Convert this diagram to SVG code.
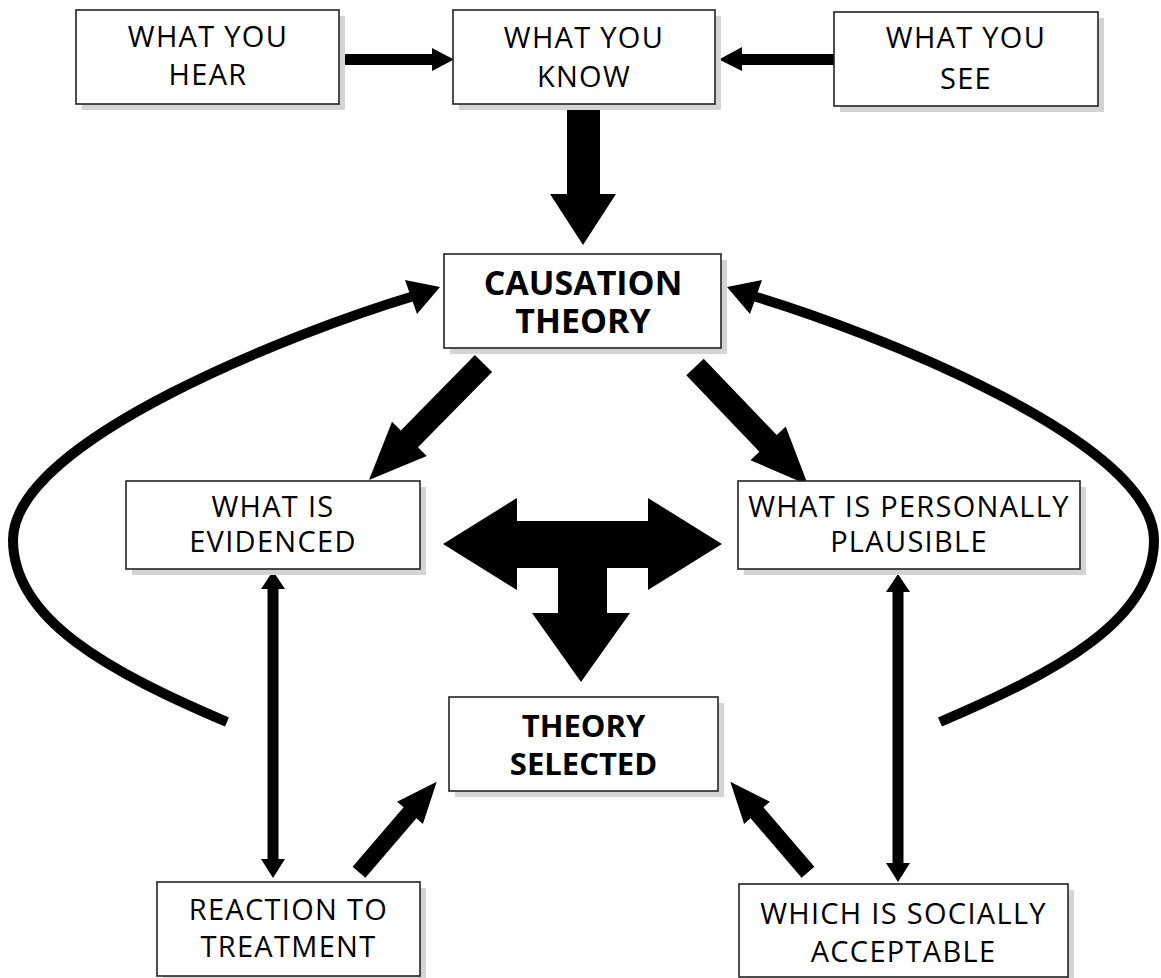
<svg xmlns="http://www.w3.org/2000/svg" width="1161" height="978" viewBox="0 0 1161 978">
<style>
.box{fill:#fff;stroke:#222;stroke-width:1.6}
.shadow{fill:#d4d4d4}
.t{font-family:"Open Sans","DejaVu Sans",sans-serif;font-size:29px;letter-spacing:1.3px;text-anchor:middle;fill:#000}
.b{font-family:"Open Sans","DejaVu Sans",sans-serif;font-weight:bold;font-size:34px;text-anchor:middle;fill:#000}
.arr{fill:#000}
.curve{fill:none;stroke:#000;stroke-width:10}
.line{fill:none;stroke:#000;stroke-width:11}
</style>
<rect width="1161" height="978" fill="#fff"/>
<g id="connectors">
  <polygon class="arr" points="339,54 432,54 432,48 454,59.5 432,71 432,65 339,65"/>
  <polygon class="arr" points="834,54 742,54 742,47 719,59.5 742,71 742,65 834,65"/>
  <polygon class="arr" points="567,104 600,104 600,194 616,194 583,245 550,194 567,194"/>
  <polygon class="arr" points="474.9,355.1 400.8,430.5 392,421.8 369,480 426.8,456 418,447.3 492.1,371.9"/>
  <polygon class="arr" points="686.3,375.3 759.4,451.7 750.5,460.3 808,485 785.7,426.5 776.8,435.1 703.7,358.7"/>
  <polygon class="arr" points="443,544 517,498 517,521 648,521 648,498 722,544 648,590 648,568 607,568 607,613 630,613 581,682 532,613 558,613 558,568 517,568 517,590"/>
  <polygon class="arr" points="352.6,866.8 403.6,807.3 397.1,801.7 436.7,781.7 422.9,823.9 416.4,818.3 365.4,877.8"/>
  <polygon class="arr" points="814.4,866.8 763.4,807.3 769.9,801.7 730.3,781.7 744.1,823.9 750.6,818.3 801.6,877.8"/>
  <line class="line" x1="273" y1="588" x2="273" y2="860"/>
  <polygon class="arr" points="273,571 285,589 261,589"/>
  <polygon class="arr" points="273,878 285,859 261,859"/>
  <line class="line" x1="898" y1="591" x2="898" y2="864"/>
  <polygon class="arr" points="898,574 910,592 886,592"/>
  <polygon class="arr" points="898,882 910,863 886,863"/>
  <path class="curve" d="M 227 722 C 110 672, 13 620, 13 540 C 13 440, 300 330, 414 296"/>
  <polygon class="arr" points="440,287 405,280 417,314"/>
  <path class="curve" d="M 940 722 C 1057 672, 1154 620, 1154 540 C 1154 440, 867 330, 753 296"/>
  <polygon class="arr" points="727,287 762,280 750,314"/>
</g>
<g id="hear">
  <rect class="shadow" x="82" y="16" width="263" height="94"/>
  <rect class="box" x="76" y="10" width="263" height="94"/>
  <text class="t" x="208" y="47">WHAT YOU</text>
  <text class="t" x="208" y="85">HEAR</text>
</g>
<g id="know">
  <rect class="shadow" x="459" y="16" width="262" height="94"/>
  <rect class="box" x="453" y="10" width="262" height="94"/>
  <text class="t" x="584" y="48">WHAT YOU</text>
  <text class="t" x="584" y="87">KNOW</text>
</g>
<g id="see">
  <rect class="shadow" x="840" y="18" width="264" height="94"/>
  <rect class="box" x="834" y="12" width="264" height="94"/>
  <text class="t" x="966" y="48">WHAT YOU</text>
  <text class="t" x="966" y="89">SEE</text>
</g>
<g id="causation">
  <rect class="shadow" x="450" y="260" width="277" height="94"/>
  <rect class="box" x="444" y="254" width="277" height="94"/>
  <text class="b" x="583" y="295">CAUSATION</text>
  <text class="b" x="583" y="333">THEORY</text>
</g>
<g id="evidenced">
  <rect class="shadow" x="132" y="487" width="294" height="88"/>
  <rect class="box" x="126" y="481" width="294" height="88"/>
  <text class="t" x="273" y="517">WHAT IS</text>
  <text class="t" x="273" y="552">EVIDENCED</text>
</g>
<g id="plausible">
  <rect class="shadow" x="744" y="487" width="342" height="88"/>
  <rect class="box" x="738" y="481" width="342" height="88"/>
  <text class="t" x="909" y="517">WHAT IS PERSONALLY</text>
  <text class="t" x="909" y="552">PLAUSIBLE</text>
</g>
<g id="selected">
  <rect class="shadow" x="455" y="703" width="269" height="94"/>
  <rect class="box" x="449" y="697" width="269" height="94"/>
  <text class="b" x="583.5" y="737" style="font-size:31px">THEORY</text>
  <text class="b" x="583.5" y="775" style="font-size:31px">SELECTED</text>
</g>
<g id="reaction">
  <rect class="shadow" x="163" y="888" width="263" height="94"/>
  <rect class="box" x="157" y="882" width="263" height="94"/>
  <text class="t" x="288.5" y="920">REACTION TO</text>
  <text class="t" x="288.5" y="957">TREATMENT</text>
</g>
<g id="socially">
  <rect class="shadow" x="745" y="890" width="329" height="93"/>
  <rect class="box" x="739" y="884" width="329" height="93"/>
  <text class="t" x="903.5" y="924">WHICH IS SOCIALLY</text>
  <text class="t" x="903.5" y="962">ACCEPTABLE</text>
</g>
</svg>
